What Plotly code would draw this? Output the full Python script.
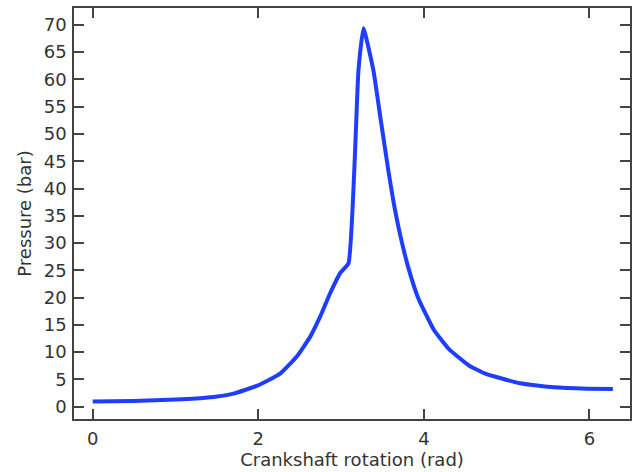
import plotly.graph_objects as go

# Crankshaft rotation (rad)
angle = [0.0, 0.5, 1.0, 1.3, 1.5, 1.7, 1.98, 2.26, 2.465, 2.626, 2.747, 2.868, 2.989, 3.09,
         3.21, 3.27, 3.39, 3.48, 3.57, 3.633, 3.714, 3.814, 3.935, 4.12, 4.3, 4.54,
         4.75, 5.16, 5.57, 5.97, 6.283]
# Pressure (bar)
pressure = [0.95, 1.05, 1.3, 1.55, 1.85, 2.4, 3.8, 6.0, 9.2, 12.8, 16.5, 20.8, 24.5, 26.3,
            61.7, 69.4, 61.7, 52.5, 43.4, 37.6, 31.5, 25.4, 19.8, 14.1, 10.6, 7.6,
            6.0, 4.3, 3.55, 3.3, 3.25]

x_ticks = [0, 2, 4, 6]
y_ticks = list(range(0, 75, 5))

FONT = dict(family="DejaVu Sans", size=18, color="#333")

fig = go.Figure()
fig.add_trace(go.Scatter(x=angle, y=pressure, mode="lines",
                         line=dict(color="#1f3dff", width=4, shape="spline", smoothing=0.4),
                         showlegend=False))

axis_common = dict(showline=True, linecolor="#444", linewidth=1.5, mirror="allticks",
                   ticks="inside", ticklen=10, tickwidth=1.5, tickcolor="#444",
                   showgrid=False, zeroline=False, tickfont=FONT, automargin=False)

fig.update_xaxes(range=[-0.226, 6.49], tickvals=x_ticks,
                 title=dict(text="Crankshaft rotation (rad)", standoff=5, font=FONT),
                 ticklabelstandoff=3, **axis_common)
fig.update_yaxes(range=[-2.26, 73.1], tickvals=y_ticks,
                 title=dict(text="Pressure (bar)", standoff=7, font=FONT),
                 ticklabelstandoff=2, **axis_common)

fig.update_layout(width=632, height=472, margin=dict(l=74, r=2, t=8, b=53),
                  plot_bgcolor="white", paper_bgcolor="white")
fig.write_html("out.html")
